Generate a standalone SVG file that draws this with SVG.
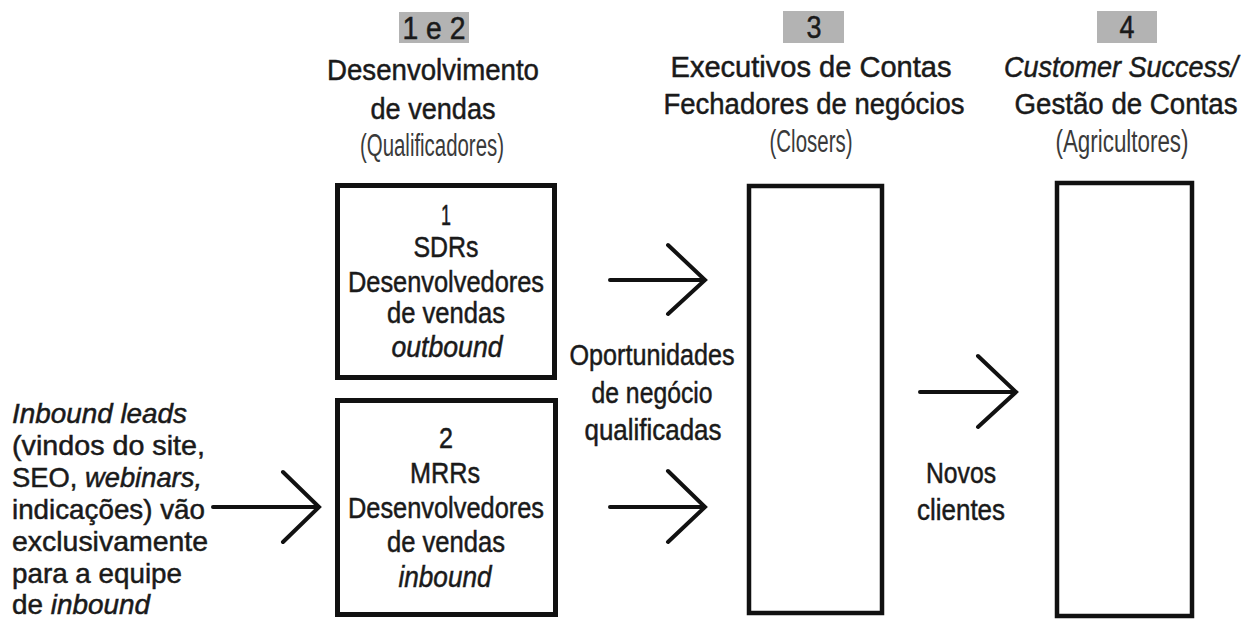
<svg xmlns="http://www.w3.org/2000/svg" width="1258" height="622" viewBox="0 0 1258 622">
<style>
.t{font-family:"Liberation Sans",Arial,sans-serif;font-size:29px;fill:#1a1a1a;stroke:#1a1a1a;stroke-width:0.5}
.h{font-size:30px}
.l{font-size:28px}
.p{font-size:31px;fill:#3a3a3a;stroke:none}
.num{font-size:31px}
.i{font-style:italic}
.m{text-anchor:middle}
.box{fill:#fff;stroke:#111;stroke-width:5}
.tall{fill:#fff;stroke:#111;stroke-width:4.5}
.badge{fill:#b3b3b3}
.arrow{fill:none;stroke:#111;stroke-width:4;stroke-linecap:round;stroke-linejoin:miter}
</style>
<rect width="1258" height="622" fill="#fff"/>

<g id="header-1-2">
  <rect class="badge" x="399" y="12" width="70" height="31"/>
  <text class="t num m" x="434" y="39" textLength="63" lengthAdjust="spacingAndGlyphs">1 e 2</text>
  <text class="t h m" x="433" y="80" textLength="212" lengthAdjust="spacingAndGlyphs">Desenvolvimento</text>
  <text class="t h m" x="433" y="119" textLength="125" lengthAdjust="spacingAndGlyphs">de vendas</text>
  <text class="t p m" x="432" y="156" textLength="144" lengthAdjust="spacingAndGlyphs">(Qualificadores)</text>
</g>

<g id="header-3">
  <rect class="badge" x="783" y="11" width="61" height="32"/>
  <text class="t num m" x="814" y="38" textLength="15" lengthAdjust="spacingAndGlyphs">3</text>
  <text class="t h m" x="811" y="77" textLength="281" lengthAdjust="spacingAndGlyphs">Executivos de Contas</text>
  <text class="t h m" x="814" y="114" textLength="301" lengthAdjust="spacingAndGlyphs">Fechadores de negócios</text>
  <text class="t p m" x="811" y="152" textLength="83" lengthAdjust="spacingAndGlyphs">(Closers)</text>
</g>

<g id="header-4">
  <rect class="badge" x="1097" y="11" width="60" height="32"/>
  <text class="t num m" x="1127" y="38" textLength="15" lengthAdjust="spacingAndGlyphs">4</text>
  <text class="t m i" x="1121" y="77" textLength="234" lengthAdjust="spacingAndGlyphs">Customer Success/</text>
  <text class="t h m" x="1126" y="114" textLength="223" lengthAdjust="spacingAndGlyphs">Gestão de Contas</text>
  <text class="t p m" x="1122" y="152" textLength="133" lengthAdjust="spacingAndGlyphs">(Agricultores)</text>
</g>

<g id="node-sdrs">
  <rect class="box" x="337.5" y="185.5" width="217" height="192"/>
  <text class="t m" x="446" y="225" textLength="10" lengthAdjust="spacingAndGlyphs">1</text>
  <text class="t m" x="446" y="257" textLength="65" lengthAdjust="spacingAndGlyphs">SDRs</text>
  <text class="t m" x="446" y="292" textLength="196" lengthAdjust="spacingAndGlyphs">Desenvolvedores</text>
  <text class="t m" x="446" y="323" textLength="118" lengthAdjust="spacingAndGlyphs">de vendas</text>
  <text class="t m i" x="447" y="357" textLength="111" lengthAdjust="spacingAndGlyphs">outbound</text>
</g>

<g id="node-mrrs">
  <rect class="box" x="337.5" y="400.5" width="218" height="214"/>
  <text class="t m" x="446" y="448" textLength="14" lengthAdjust="spacingAndGlyphs">2</text>
  <text class="t m" x="445" y="483" textLength="70" lengthAdjust="spacingAndGlyphs">MRRs</text>
  <text class="t m" x="446" y="518" textLength="196" lengthAdjust="spacingAndGlyphs">Desenvolvedores</text>
  <text class="t m" x="446" y="552" textLength="118" lengthAdjust="spacingAndGlyphs">de vendas</text>
  <text class="t m i" x="445" y="587" textLength="93" lengthAdjust="spacingAndGlyphs">inbound</text>
</g>

<g id="node-closers">
  <rect class="tall" x="749" y="186" width="133" height="427"/>
</g>

<g id="node-customer-success">
  <rect class="tall" x="1057" y="183" width="135" height="433"/>
</g>

<g id="label-inbound-leads">
  <text class="t l i" x="12" y="423" textLength="175" lengthAdjust="spacingAndGlyphs">Inbound leads</text>
  <text class="t l" x="12" y="455" textLength="193" lengthAdjust="spacingAndGlyphs">(vindos do site,</text>
  <text class="t l" x="12" y="487" textLength="190" lengthAdjust="spacingAndGlyphs">SEO, <tspan class="i">webinars,</tspan></text>
  <text class="t l" x="12" y="519" textLength="193" lengthAdjust="spacingAndGlyphs">indicações) vão</text>
  <text class="t l" x="12" y="551" textLength="196" lengthAdjust="spacingAndGlyphs">exclusivamente</text>
  <text class="t l" x="12" y="583" textLength="170" lengthAdjust="spacingAndGlyphs">para a equipe</text>
  <text class="t l" x="12" y="614" textLength="138" lengthAdjust="spacingAndGlyphs">de <tspan class="i">inbound</tspan></text>
</g>

<g id="label-oportunidades">
  <text class="t m" x="652" y="365" textLength="165" lengthAdjust="spacingAndGlyphs">Oportunidades</text>
  <text class="t m" x="652" y="403" textLength="121" lengthAdjust="spacingAndGlyphs">de negócio</text>
  <text class="t m" x="653" y="440" textLength="137" lengthAdjust="spacingAndGlyphs">qualificadas</text>
</g>

<g id="label-novos-clientes">
  <text class="t m" x="961" y="483" textLength="70" lengthAdjust="spacingAndGlyphs">Novos</text>
  <text class="t m" x="961" y="520" textLength="88" lengthAdjust="spacingAndGlyphs">clientes</text>
</g>

<g id="connectors">
  <path class="arrow" d="M213 507 H318 M283 472 L319 507 L283 542"/>
  <path class="arrow" d="M610 280 H704 M668 245 L705 280 L668 314"/>
  <path class="arrow" d="M610 507 H704 M668 471 L705 507 L668 542"/>
  <path class="arrow" d="M920 392 H1015 M978 356 L1016 392 L978 427"/>
</g>
</svg>
